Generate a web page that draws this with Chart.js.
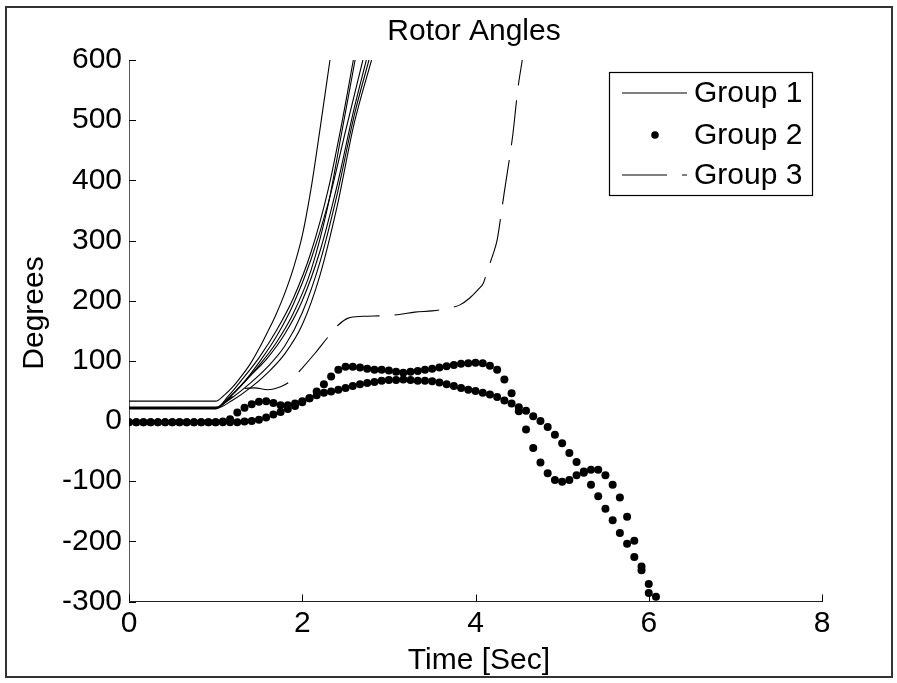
<!DOCTYPE html>
<html>
<head>
<meta charset="utf-8">
<title>Rotor Angles</title>
<script src="https://cdn.jsdelivr.net/npm/chart.js@4.4.1/dist/chart.umd.min.js"></script>
<style>
  html, body { margin: 0; padding: 0; background: #fff; }
  #rotor { display: block; }
</style>
</head>
<body>
<canvas id="rotor" width="897" height="683"></canvas>
<script>
// Group 1 machines, [time (s), angle (deg)]
const group1Line1 = [[0, 33], [1.0, 33], [1.1, 43], [1.2, 57], [1.3, 75], [1.4, 95], [1.5, 120], [1.6, 148], [1.7, 178], [1.8, 213], [1.9, 255], [2.0, 308], [2.1, 385], [2.2, 480], [2.32, 600]];
const group1Line2 = [[0, 21], [1.0, 21], [1.15, 42], [1.3, 68], [1.5, 105], [1.7, 150], [1.9, 205], [2.1, 280], [2.3, 385], [2.45, 490], [2.59, 600]];
const group1Line3 = [[0, 22], [1.0, 22], [1.15, 38], [1.3, 60], [1.5, 92], [1.7, 130], [1.9, 180], [2.1, 250], [2.3, 360], [2.45, 475], [2.61, 600]];
const group1Line4 = [[0, 20], [1.0, 20], [1.15, 38], [1.3, 60], [1.5, 97], [1.7, 140], [1.9, 195], [2.1, 268], [2.3, 362], [2.5, 482], [2.70, 600]];
const group1Line5 = [[0, 21], [1.0, 21], [1.2, 45], [1.4, 75], [1.6, 105], [1.8, 145], [2.0, 200], [2.2, 280], [2.4, 390], [2.6, 520], [2.74, 600]];
const group1Line6 = [[0, 23], [1.0, 23], [1.2, 40], [1.4, 63], [1.6, 90], [1.8, 125], [2.0, 180], [2.2, 262], [2.4, 375], [2.6, 508], [2.77, 600]];
const group1Line7 = [[0, 21], [1.0, 21], [1.2, 35], [1.4, 55], [1.6, 80], [1.8, 112], [2.0, 160], [2.2, 240], [2.4, 355], [2.6, 495], [2.80, 600]];

// Group 2 machines, one sample every 1/12 s starting at t = 0
const dotStep = 1 / 12;
const group2Upper = [
  -2, -2, -2, -2, -2, -2, -2, -2, -2, -2, -2, -2, -2,
  -1, 3, 14, 22, 28, 32, 33, 30, 26, 26, 29, 33, 38, 49, 61, 74,
  85, 90, 90, 89, 87, 85, 85, 84, 82, 80, 82, 83, 85, 87, 89, 91,
  93, 95, 96, 97, 96, 92, 85, 69, 46, 16, -14, -45, -69, -87, -98,
  -101, -98, -90, -84, -81, -81, -90, -106, -127, -159, -199, -242, -286
];
const group2Lower = [
  -2, -2, -2, -2, -2, -2, -2, -2, -2, -2, -2, -2, -2, -2, -2,
  -2, -1, 0, 2, 6, 11, 15, 20, 25, 31, 38, 43, 47, 49, 52, 55,
  58, 61, 63, 65, 67, 68, 68, 69, 68, 67, 67, 66, 64, 61, 58, 55,
  52, 50, 47, 44, 40, 34, 29, 23, 17, 8, 0, -10, -23, -37, -53,
  -68, -86, -106, -125, -146, -165, -186, -204, -226, -248, -271, -292
];

// Group 3 machine
const group3Line = [[0, 21], [1.0, 21], [1.1, 30], [1.2, 42], [1.3, 53], [1.45, 55], [1.6, 52], [1.75, 57], [1.85, 65], [2.0, 88], [2.15, 113], [2.3, 140], [2.42, 160], [2.53, 171], [2.7, 174], [2.93, 175], [3.12, 177], [3.3, 181], [3.5, 183], [3.64, 186], [3.82, 193], [3.93, 204], [4.04, 220], [4.09, 229], [4.14, 251], [4.2, 276], [4.25, 301], [4.3, 348], [4.33, 378], [4.43, 475], [4.49, 553], [4.54, 600]];

const legendLabels = ['Group 1', 'Group 2', 'Group 3'];
const titleText = 'Rotor Angles';
const xTitle = 'Time [Sec]';
const yTitle = 'Degrees';

const FONT = '"Liberation Sans", Arial, Helvetica, sans-serif';
const DASH = [45, 15];

const toPoints = pairs => pairs.map(([t, deg]) => ({ x: t, y: deg }));
const sampled = values => values.map((deg, k) => ({ x: k * dotStep, y: deg }));

const solid = {
  borderColor: '#000',
  borderWidth: 1.1,
  pointRadius: 0,
  fill: false,
  cubicInterpolationMode: 'monotone'
};
const dots = {
  showLine: false,
  pointRadius: 4,
  pointBackgroundColor: '#000',
  pointBorderWidth: 0,
  borderColor: '#000'
};

// MATLAB-like extras: inward ticks, legend box, titles and outer frame
const decorations = {
  id: 'decorations',
  afterDatasetsDraw(chart) {
    const { ctx, chartArea: a, scales: { x, y } } = chart;
    ctx.save();

    // inward tick marks
    ctx.strokeStyle = '#000';
    ctx.lineWidth = 1;
    ctx.beginPath();
    y.ticks.forEach(t => {
      const py = Math.round(y.getPixelForValue(t.value)) + 0.5;
      ctx.moveTo(a.left, py);
      ctx.lineTo(a.left + 7, py);
    });
    x.ticks.forEach(t => {
      const px = Math.round(x.getPixelForValue(t.value)) + 0.5;
      ctx.moveTo(px, a.bottom);
      ctx.lineTo(px, a.bottom - 7);
    });
    ctx.stroke();

    // legend
    const bx = 609.5, by = 72.5, bw = 203, bh = 123;
    ctx.fillStyle = '#fff';
    ctx.fillRect(bx, by, bw, bh);
    ctx.strokeStyle = '#000';
    ctx.lineWidth = 1.2;
    ctx.strokeRect(bx, by, bw, bh);

    const rows = [93, 135, 175];
    ctx.lineWidth = 1.1;
    ctx.beginPath();
    ctx.moveTo(622, rows[0]);
    ctx.lineTo(687, rows[0]);
    ctx.stroke();

    ctx.fillStyle = '#000';
    ctx.beginPath();
    ctx.arc(655, rows[1], 3.8, 0, Math.PI * 2);
    ctx.fill();

    ctx.setLineDash(DASH);
    ctx.beginPath();
    ctx.moveTo(622, rows[2]);
    ctx.lineTo(687, rows[2]);
    ctx.stroke();
    ctx.setLineDash([]);

    ctx.font = '30px ' + FONT;
    ctx.textAlign = 'left';
    ctx.textBaseline = 'middle';
    legendLabels.forEach((label, i) => ctx.fillText(label, 694, rows[i] + 1));

    // titles
    ctx.textAlign = 'center';
    ctx.textBaseline = 'alphabetic';
    ctx.fillText(titleText, 474, 40);
    ctx.fillText(xTitle, 479, 669);
    ctx.translate(43, 313);
    ctx.rotate(-Math.PI / 2);
    ctx.fillText(yTitle, 0, 0);
    ctx.restore();

    // outer frame
    ctx.save();
    ctx.strokeStyle = '#333';
    ctx.lineWidth = 2;
    ctx.strokeRect(6, 7, 886, 670);
    ctx.restore();
  }
};

new Chart(document.getElementById('rotor'), {
  type: 'line',
  data: {
    datasets: [
      { ...solid, label: legendLabels[0], data: toPoints(group1Line1) },
      { ...solid, label: legendLabels[0], data: toPoints(group1Line2) },
      { ...solid, label: legendLabels[0], data: toPoints(group1Line3) },
      { ...solid, label: legendLabels[0], data: toPoints(group1Line4) },
      { ...solid, label: legendLabels[0], data: toPoints(group1Line5) },
      { ...solid, label: legendLabels[0], data: toPoints(group1Line6) },
      { ...solid, label: legendLabels[0], data: toPoints(group1Line7) },
      { ...dots, label: legendLabels[1], data: sampled(group2Upper) },
      { ...dots, label: legendLabels[1], data: sampled(group2Lower) },
      { ...solid, label: legendLabels[2], data: toPoints(group3Line), borderDash: DASH, borderDashOffset: 57.5 }
    ]
  },
  options: {
    responsive: false,
    animation: false,
    devicePixelRatio: 1,
    layout: { padding: { top: 60, right: 75, left: 0, bottom: 0 } },
    plugins: {
      legend: { display: false },
      tooltip: { enabled: false },
      title: { display: false }
    },
    scales: {
      x: {
        type: 'linear',
        min: 0,
        max: 8,
        ticks: { stepSize: 2, autoSkip: false, maxRotation: 0, color: '#000', padding: 4, font: { family: FONT, size: 30 } },
        grid: { display: false, drawTicks: false },
        border: { display: true, color: '#222', width: 1 },
        afterFit(scale) { scale.height = 81.5; }
      },
      y: {
        type: 'linear',
        min: -300,
        max: 600,
        ticks: { stepSize: 100, autoSkip: false, color: '#000', padding: 7, font: { family: FONT, size: 30 } },
        grid: { display: false, drawTicks: false },
        border: { display: true, color: '#555', width: 1 },
        afterFit(scale) { scale.width = 129; }
      }
    }
  },
  plugins: [decorations]
});
</script>
</body>
</html>
